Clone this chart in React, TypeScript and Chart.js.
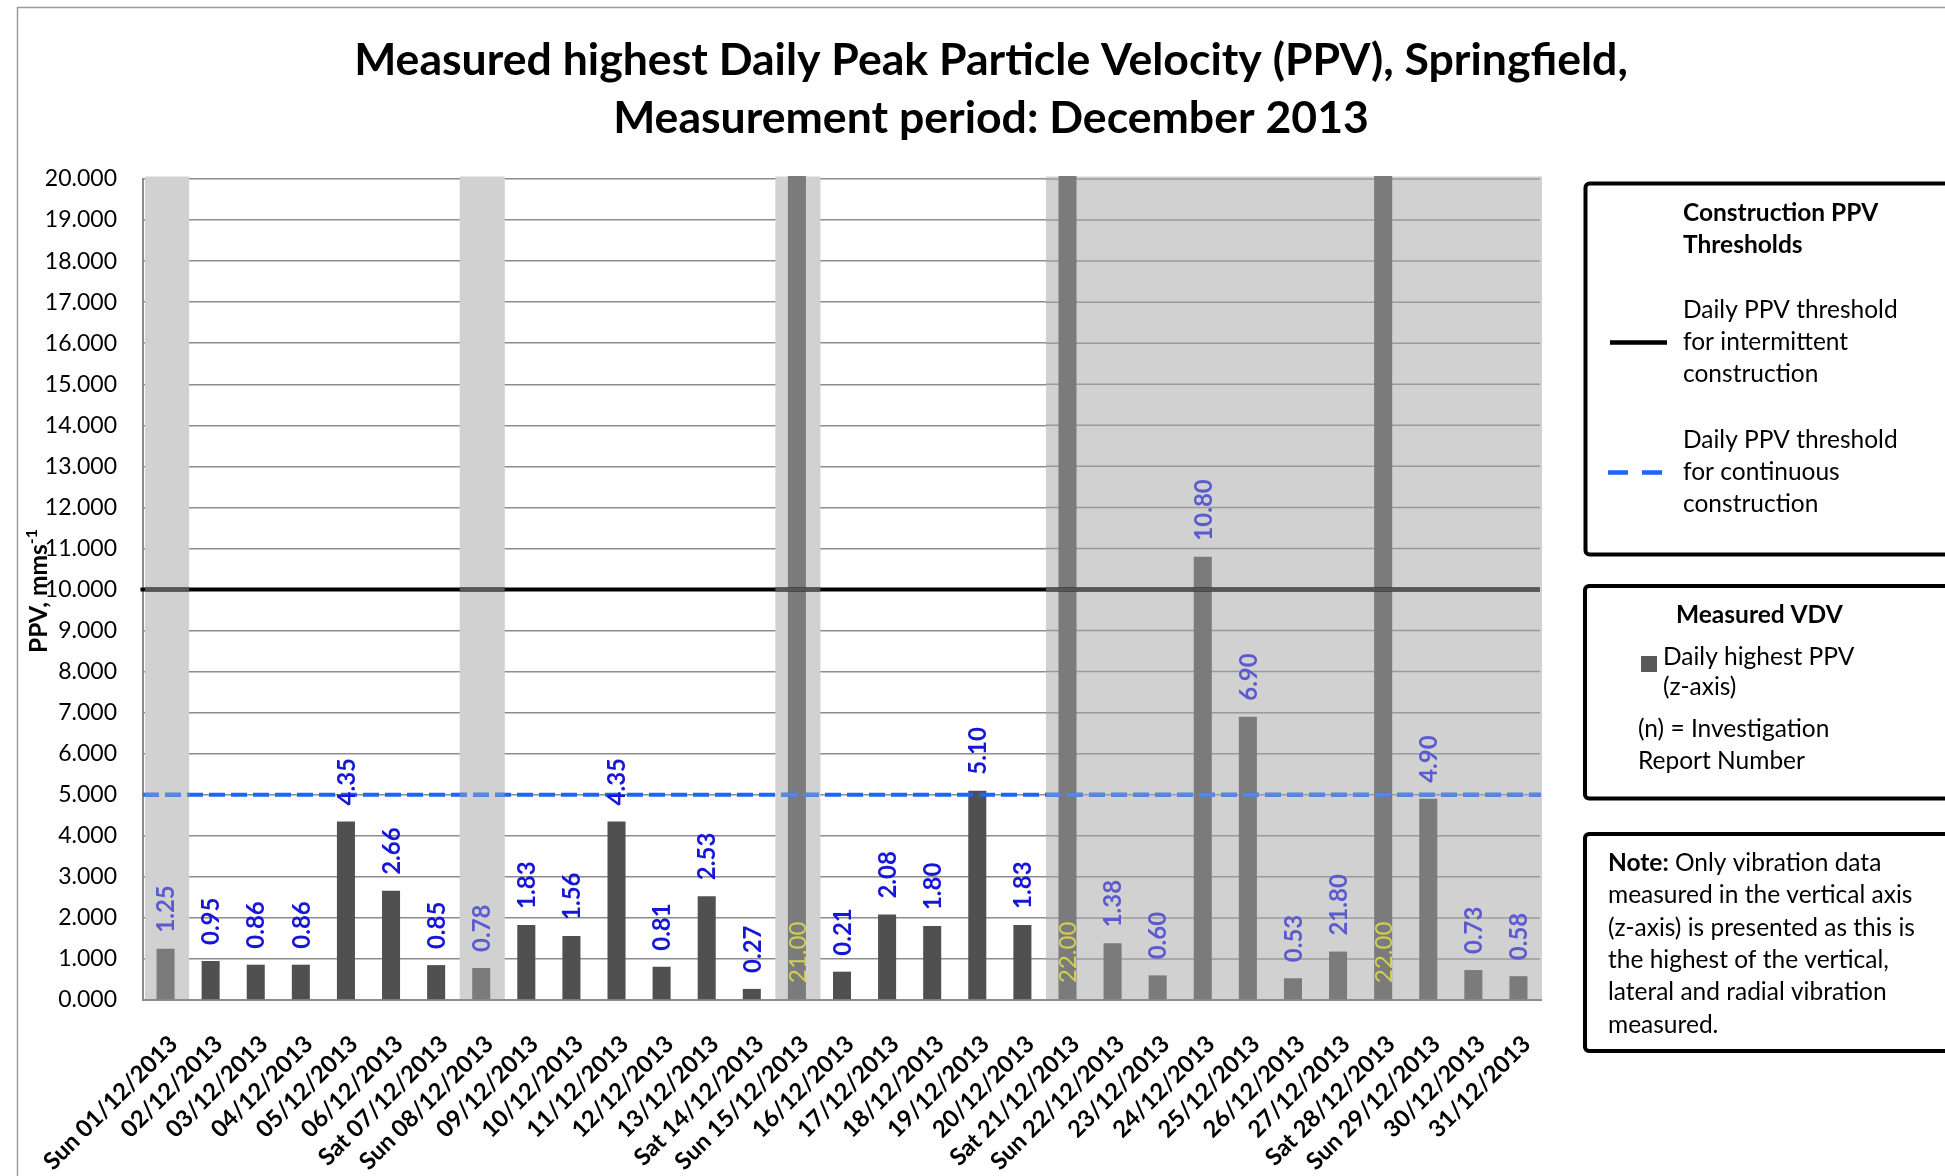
import React, { useEffect, useRef } from "react";
import { Chart, registerables } from "chart.js";

Chart.register(...registerables);

// ---------------- data ----------------
const categories = [
  "Sun 01/12/2013", "02/12/2013", "03/12/2013", "04/12/2013", "05/12/2013", "06/12/2013",
  "Sat 07/12/2013", "Sun 08/12/2013", "09/12/2013", "10/12/2013", "11/12/2013", "12/12/2013",
  "13/12/2013", "Sat 14/12/2013", "Sun 15/12/2013", "16/12/2013", "17/12/2013", "18/12/2013",
  "19/12/2013", "20/12/2013", "Sat 21/12/2013", "Sun 22/12/2013", "23/12/2013", "24/12/2013",
  "25/12/2013", "26/12/2013", "27/12/2013", "Sat 28/12/2013", "Sun 29/12/2013", "30/12/2013",
  "31/12/2013",
];

// bar heights as drawn
const ppvValues = [
  1.25, 0.95, 0.86, 0.86, 4.35, 2.66, 0.85, 0.78, 1.83, 1.56, 4.35, 0.81, 2.53, 0.27, 21.0,
  0.69, 2.08, 1.8, 5.1, 1.83, 22.0, 1.38, 0.6, 10.8, 6.9, 0.53, 1.18, 22.0, 4.9, 0.73, 0.58,
];

// data label texts as printed
const valueLabels = [
  "1.25", "0.95", "0.86", "0.86", "4.35", "2.66", "0.85", "0.78", "1.83", "1.56", "4.35", "0.81",
  "2.53", "0.27", "21.00", "0.21", "2.08", "1.80", "5.10", "1.83", "22.00", "1.38", "0.60", "10.80",
  "6.90", "0.53", "21.80", "22.00", "4.90", "0.73", "0.58",
];

// shaded (weekend / holiday) days
const shaded = [
  true, false, false, false, false, false, false, true, false, false, false, false, false, false, true,
  false, false, false, false, false, true, true, true, true, true, true, true, true, true, true, true,
];

const yMin = 0;
const yMax = 20;
const yStep = 1;
const thresholdIntermittent = 10;
const thresholdContinuous = 5;

const titleLines = [
  "Measured highest Daily Peak Particle Velocity (PPV), Springfield,",
  "Measurement period: December 2013",
];
const yAxisTitle = "PPV, mms";
const yAxisTitleSup = "-1";

const legendThresholdTitle = ["Construction PPV", "Thresholds"];
const legendIntermittent = ["Daily PPV threshold", "for intermittent", "construction"];
const legendContinuous = ["Daily PPV threshold", "for continuous", "construction"];
const legendMeasuredTitle = "Measured VDV";
const legendSeries = ["Daily highest PPV", "(z-axis)"];
const legendInvestigation = ["(n) = Investigation", "Report Number"];
const noteBold = "Note:";
const noteLines = [
  " Only vibration data",
  "measured in the vertical axis",
  "(z-axis) is presented as this is",
  "the highest of the vertical,",
  "lateral and radial vibration",
  "measured.",
];

// ---------------- styles ----------------
const FONT = "Lato, 'Open Sans', sans-serif";
const BAR = "#505050";
const BAR_SHADED = "#7b7b7b";
const BAND = "#d1d1d1";
const GRID = "#8c8c8c";
const GRID_SHADED = "#9a9a9a";
const LABEL = "#1616d6";
const LABEL_SHADED = "#5b5bcf";
const LABEL_OVER = "#d0d055";
const BLUE = "#1a66ff";
const BLUE_SHADED = "#5a87d6";
const BLACK_SHADED = "#555555";
const LEG = 24.5;

function fitSize(text: string, weight: string, target: number): number {
  const c = document.createElement("canvas").getContext("2d");
  if (!c) return 24;
  c.font = `${weight} 100px ${FONT}`;
  return (100 * target) / c.measureText(text).width;
}

function shadedRuns(): [number, number][] {
  const runs: [number, number][] = [];
  let start = -1;
  for (let i = 0; i < shaded.length; i++) {
    if (shaded[i] && start < 0) start = i;
    if ((!shaded[i] || i === shaded.length - 1) && start >= 0) {
      const end = shaded[i] ? i : i - 1;
      runs.push([start, end]);
      start = -1;
    }
  }
  return runs;
}

function bandRects(chart: any) {
  const xs = chart.scales.x;
  const area = chart.chartArea;
  const half = (xs.getPixelForValue(1) - xs.getPixelForValue(0)) / 2;
  return shadedRuns().map(([s, e]) => {
    const left = Math.max(area.left + 2, xs.getPixelForValue(s) - half + 1);
    const right = Math.min(area.right + 2, xs.getPixelForValue(e) + half + 1);
    return { left, right, top: area.top - 2.5, bottom: area.bottom - 1, long: e > s };
  });
}

const decorPlugin = {
  id: "decor",
  beforeDraw(chart: any) {
    const ctx = chart.ctx;
    ctx.save();
    ctx.fillStyle = "#ffffff";
    ctx.fillRect(0, 0, chart.width, chart.height);
    // outer frame
    ctx.strokeStyle = "#9c9c9c";
    ctx.lineWidth = 1.5;
    ctx.beginPath();
    ctx.moveTo(17.5, chart.height + 5);
    ctx.lineTo(17.5, 7.5);
    ctx.lineTo(chart.width + 5, 7.5);
    ctx.stroke();
    // title
    ctx.fillStyle = "#000";
    ctx.textAlign = "center";
    ctx.textBaseline = "alphabetic";
    ctx.font = `bold 100px ${FONT}`;
    const w = ctx.measureText(titleLines[0]).width;
    const size = (100 * 1274) / w;
    ctx.font = `bold ${size}px ${FONT}`;
    ctx.fillText(titleLines[0], 991, 75);
    ctx.fillText(titleLines[1], 991, 133);
    ctx.restore();
  },
  beforeDatasetsDraw(chart: any) {
    const ctx = chart.ctx;
    const ys = chart.scales.y;
    const area = chart.chartArea;
    ctx.save();
    for (const b of bandRects(chart)) {
      ctx.fillStyle = BAND;
      ctx.fillRect(b.left, b.top, b.right - b.left, b.bottom - b.top);
      if (b.long) {
        ctx.strokeStyle = GRID_SHADED;
        ctx.lineWidth = 1.5;
        for (let v = yMin + yStep; v <= yMax; v += yStep) {
          const y = ys.getPixelForValue(v);
          ctx.beginPath();
          ctx.moveTo(b.left, y);
          ctx.lineTo(Math.min(b.right, area.right - 1), y);
          ctx.stroke();
        }
      }
    }
    ctx.restore();
  },
  afterDatasetsDraw(chart: any) {
    const ctx = chart.ctx;
    const ys = chart.scales.y;
    const area = chart.chartArea;
    const yI = ys.getPixelForValue(thresholdIntermittent);
    const yC = ys.getPixelForValue(thresholdContinuous);
    const drawLines = (black: string, blue: string) => {
      ctx.lineCap = "butt";
      ctx.strokeStyle = black;
      ctx.lineWidth = 4;
      ctx.setLineDash([]);
      ctx.beginPath();
      ctx.moveTo(area.left - 2.5, yI);
      ctx.lineTo(area.right - 1, yI);
      ctx.stroke();
      ctx.strokeStyle = blue;
      ctx.lineWidth = 4;
      ctx.setLineDash([16, 6]);
      ctx.beginPath();
      ctx.moveTo(area.left, yC);
      ctx.lineTo(area.right, yC);
      ctx.stroke();
      ctx.setLineDash([]);
    };
    ctx.save();
    drawLines("#000000", BLUE);
    for (const b of bandRects(chart)) {
      ctx.save();
      ctx.beginPath();
      ctx.rect(b.left, b.top, b.right - b.left, b.bottom - b.top);
      ctx.clip();
      drawLines(BLACK_SHADED, BLUE_SHADED);
      ctx.restore();
    }
    // data labels
    const meta = chart.getDatasetMeta(0);
    const y0 = ys.getPixelForValue(0);
    meta.data.forEach((bar: any, i: number) => {
      const over = ppvValues[i] > yMax;
      ctx.save();
      let y: number;
      if (over) {
        y = y0 - 17;
        ctx.fillStyle = LABEL_OVER;
        ctx.font = `24px ${FONT}`;
      } else {
        y = bar.y - 16;
        ctx.fillStyle = shaded[i] ? LABEL_SHADED : LABEL;
        ctx.font = `bold 24px ${FONT}`;
      }
      ctx.translate(bar.x + 1, y);
      ctx.rotate(-Math.PI / 2);
      ctx.textAlign = "left";
      ctx.textBaseline = "middle";
      ctx.fillText(valueLabels[i], 0, 0);
      ctx.restore();
    });
    ctx.restore();
  },
  afterDraw(chart: any) {
    const ctx = chart.ctx;
    ctx.save();
    // y axis title with superscript
    ctx.fillStyle = "#000";
    ctx.translate(47, 653);
    ctx.rotate(-Math.PI / 2);
    ctx.textAlign = "left";
    ctx.textBaseline = "alphabetic";
    ctx.font = `bold 24.5px ${FONT}`;
    ctx.fillText(yAxisTitle, 0, 0);
    const tw = ctx.measureText(yAxisTitle).width;
    ctx.font = `bold 16px ${FONT}`;
    ctx.fillText(yAxisTitleSup, tw, -10);
    ctx.restore();

    // legend boxes
    ctx.save();
    ctx.strokeStyle = "#000";
    ctx.lineWidth = 4;
    const box = (l: number, t: number, b: number) => {
      ctx.beginPath();
      if ((ctx as any).roundRect) (ctx as any).roundRect(l, t, 1990 - l, b - t, 4);
      else ctx.rect(l, t, 1990 - l, b - t);
      ctx.stroke();
    };
    box(1585.5, 183.5, 554.5);
    box(1585, 586, 798.5);
    box(1585, 834, 1051);

    ctx.fillStyle = "#000";
    ctx.textAlign = "left";
    ctx.textBaseline = "alphabetic";
    // box 1
    ctx.font = `bold ${LEG}px ${FONT}`;
    ctx.fillText(legendThresholdTitle[0], 1683, 221);
    ctx.fillText(legendThresholdTitle[1], 1683, 252.5);
    ctx.font = `${LEG}px ${FONT}`;
    legendIntermittent.forEach((s, k) => ctx.fillText(s, 1683, 317.5 + k * 32.3));
    legendContinuous.forEach((s, k) => ctx.fillText(s, 1683, 447.5 + k * 32.3));
    ctx.lineWidth = 4.5;
    ctx.strokeStyle = "#000";
    ctx.beginPath();
    ctx.moveTo(1610, 342.5);
    ctx.lineTo(1667, 342.5);
    ctx.stroke();
    ctx.strokeStyle = BLUE;
    ctx.beginPath();
    ctx.moveTo(1608, 472.5);
    ctx.lineTo(1628, 472.5);
    ctx.moveTo(1642, 472.5);
    ctx.lineTo(1662, 472.5);
    ctx.stroke();

    // box 2
    ctx.font = `bold ${LEG}px ${FONT}`;
    ctx.fillText(legendMeasuredTitle, 1676, 622.5);
    ctx.fillStyle = "#595959";
    ctx.fillRect(1641, 656, 16, 16);
    ctx.fillStyle = "#000";
    ctx.font = `${LEG}px ${FONT}`;
    ctx.fillText(legendSeries[0], 1663, 665);
    ctx.fillText(legendSeries[1], 1663, 695);
    ctx.fillText(legendInvestigation[0], 1638, 737);
    ctx.fillText(legendInvestigation[1], 1638, 769);

    // box 3
    ctx.font = `bold ${LEG}px ${FONT}`;
    ctx.fillText(noteBold, 1608, 871);
    const nb = ctx.measureText(noteBold).width;
    ctx.font = `${LEG}px ${FONT}`;
    noteLines.forEach((s, k) => ctx.fillText(s, k === 0 ? 1608 + nb : 1608, 871 + k * 32.3));
    ctx.restore();
  },
};

export default function App() {
  const ref = useRef<HTMLCanvasElement | null>(null);
  useEffect(() => {
    if (!ref.current) return;
    // x tick labels: fit the longest date label to the reference length
    const xSize = Math.min(26, Math.max(20, fitSize(categories[0], "bold", 178)));
    const xLine = xSize * 1.2;
    const xPadding = 40 - Math.SQRT1_2 * (xLine / 2);
    const chart = new Chart(ref.current, {
      type: "bar",
      data: {
        labels: categories,
        datasets: [
          {
            label: "Daily highest PPV (z-axis)",
            data: ppvValues,
            backgroundColor: ppvValues.map((_, i) => (shaded[i] ? BAR_SHADED : BAR)),
            borderWidth: 0,
            barPercentage: 0.4,
            categoryPercentage: 1,
            clip: { left: 0, top: 3, right: 0, bottom: 0 } as any,
          },
        ],
      },
      options: {
        responsive: false,
        animation: false,
        events: [],
        layout: { padding: { left: 0, top: 179, right: 404, bottom: 0 } },
        plugins: {
          legend: { display: false },
          title: { display: false },
          tooltip: { enabled: false },
        },
        scales: {
          x: {
            type: "category",
            offset: true,
            grid: { display: true, drawOnChartArea: false, drawTicks: false },
            border: { display: true, color: GRID, width: 2 },
            ticks: {
              autoSkip: false,
              minRotation: 45,
              maxRotation: 45,
              color: "#000",
              padding: xPadding,
              labelOffset: 8,
              font: { family: FONT, size: xSize, weight: "bold", lineHeight: 1.2 },
            },
            afterFit: (s: any) => {
              s.height = 176;
            },
          },
          y: {
            min: yMin,
            max: yMax,
            ticks: {
              stepSize: yStep,
              color: "#000",
              padding: 26,
              font: { family: FONT, size: 23 },
              callback: (v: any) => Number(v).toFixed(3),
            },
            grid: { color: GRID, lineWidth: 1.5, drawTicks: false },
            border: { display: true, color: GRID, width: 2 },
            afterFit: (s: any) => {
              s.width = 143;
            },
          },
        },
      } as any,
      plugins: [decorPlugin],
    });
    return () => chart.destroy();
  }, []);
  return (
    <div style={{ position: "absolute", left: 0, top: 0, width: 1945, height: 1176, background: "#fff" }}>
      <canvas ref={ref} width={1945} height={1176} style={{ display: "block" }} />
    </div>
  );
}
